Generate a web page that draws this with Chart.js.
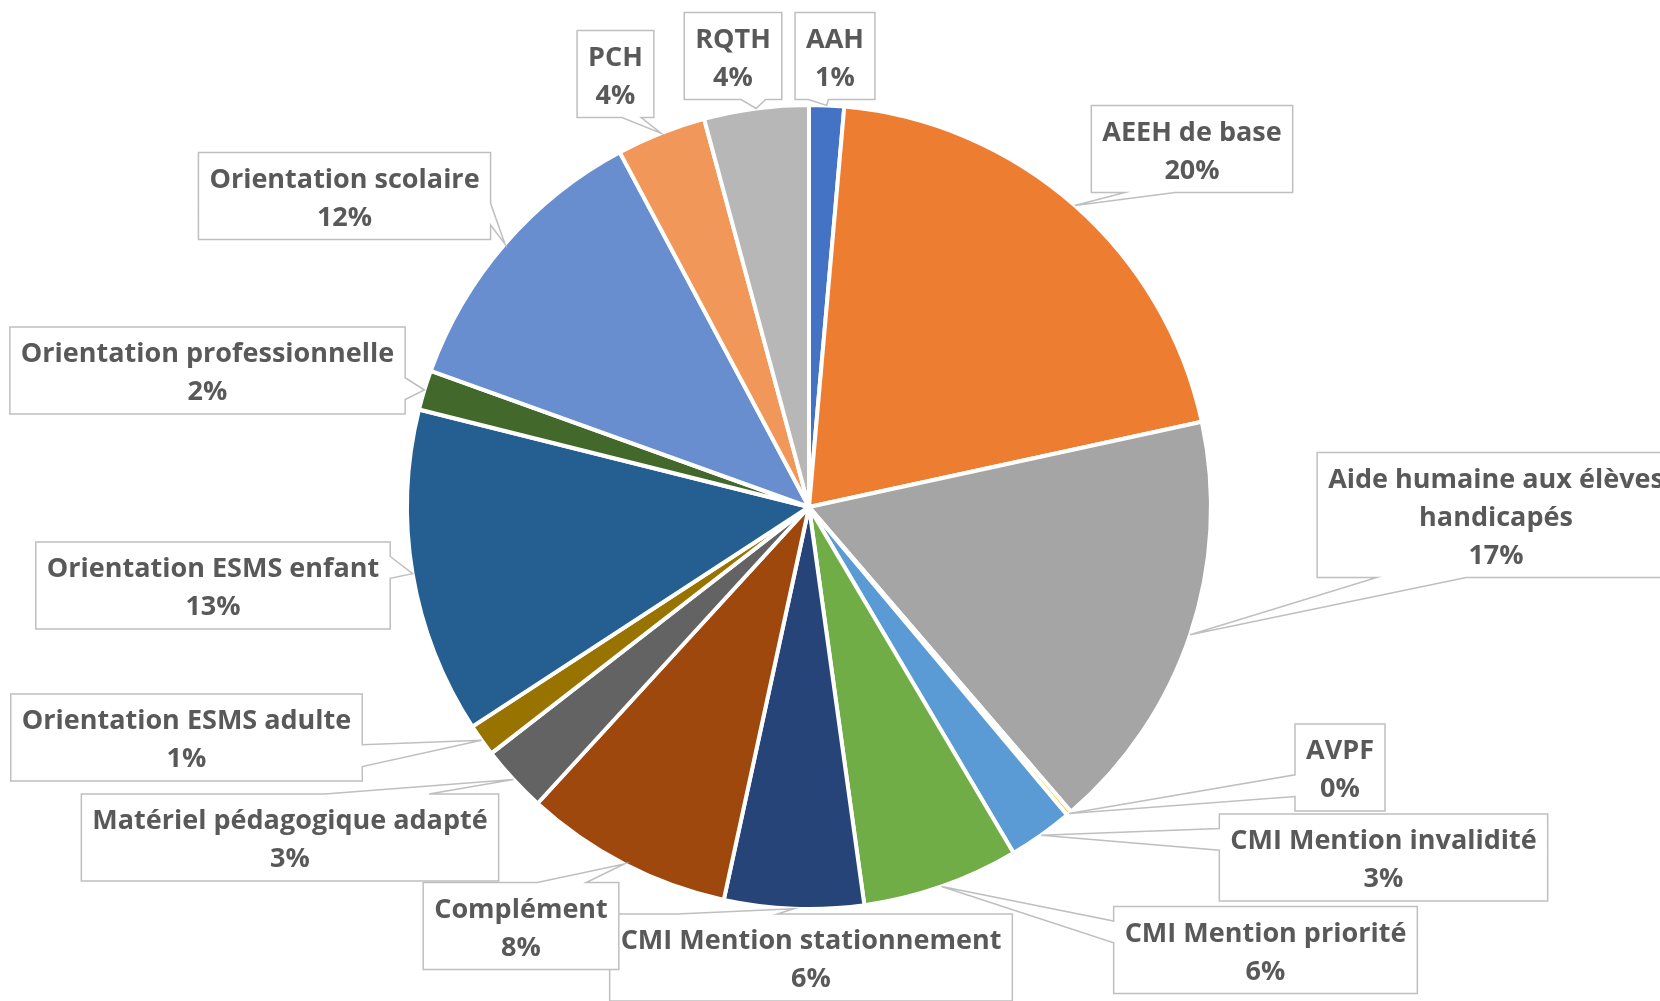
<!DOCTYPE html>
<html lang="fr">
<head>
<meta charset="utf-8">
<title>Répartition</title>
<script src="https://cdn.jsdelivr.net/npm/chart.js@4.4.1/dist/chart.umd.min.js"></script>
<style>
  html, body { margin: 0; padding: 0; background: #fff; }
  #wrap { width: 1660px; height: 1001px; overflow: hidden; }
</style>
</head>
<body>
<div id="wrap"><canvas id="canvas-1" width="1660" height="1001"></canvas></div>
<script>
var categories = ['AAH', 'AEEH de base', 'Aide humaine aux élèves handicapés', 'AVPF',
  'CMI Mention invalidité', 'CMI Mention priorité', 'CMI Mention stationnement', 'Complément',
  'Matériel pédagogique adapté', 'Orientation ESMS adulte', 'Orientation ESMS enfant',
  'Orientation professionnelle', 'Orientation scolaire', 'PCH', 'RQTH'];
var values = [1.4, 20.2, 17.1, 0.2, 2.6, 6.3, 5.6, 8.4, 2.7, 1.3, 13.1, 1.6, 11.7, 3.6, 4.2];
var colors = ['#4472C4', '#ED7D31', '#A5A5A5', '#FFC000', '#5B9BD5', '#70AD47', '#264478', '#9E480E',
  '#636363', '#997300', '#255E91', '#43682B', '#698ED0', '#F1975A', '#B7B7B7'];

// callout box centres (px) and the edge the pointer leaves from
var labelBoxes = [
  {x: 835, y: 56, side: 'b'}, {x: 1192, y: 149, side: 'b'}, {x: 1496, y: 515, side: 'b'},
  {x: 1340, y: 767.5, side: 'l'}, {x: 1383.5, y: 857.5, side: 'l'}, {x: 1265.5, y: 950, side: 'l'},
  {x: 811, y: 957.5, side: 't'}, {x: 521, y: 926, side: 't'}, {x: 290, y: 837.5, side: 't'},
  {x: 186.5, y: 737.5, side: 'r'}, {x: 213, y: 585.5, side: 'r'}, {x: 207.5, y: 370.5, side: 'r'},
  {x: 344.5, y: 196, side: 'r'}, {x: 615.5, y: 74, side: 'b'}, {x: 733, y: 56, side: 'b'}
];

var FONT = 'bold 27px "Open Sans"';
var LINE_H = 38;
var WRAP_W = 410;

function wrapText(ctx, text) {
  var words = text.split(' '), lines = [], cur = '';
  words.forEach(function (w) {
    var test = cur ? cur + ' ' + w : w;
    if (cur && ctx.measureText(test).width > WRAP_W) { lines.push(cur); cur = w; }
    else cur = test;
  });
  lines.push(cur);
  return lines;
}

function callout(ctx, l, t, w, h, tip, side) {
  var r = l + w, b = t + h, x1, x2, y1, y2;
  if (tip.x > l + w / 2) { x1 = l + w * 7 / 12; x2 = l + w * 10 / 12; }
  else { x1 = l + w * 2 / 12; x2 = l + w * 5 / 12; }
  if (tip.y > t + h / 2) { y1 = t + h * 7 / 12; y2 = t + h * 10 / 12; }
  else { y1 = t + h * 2 / 12; y2 = t + h * 5 / 12; }
  ctx.beginPath();
  ctx.moveTo(l, t);
  if (side === 't') { ctx.lineTo(x1, t); ctx.lineTo(tip.x, tip.y); ctx.lineTo(x2, t); }
  ctx.lineTo(r, t);
  if (side === 'r') { ctx.lineTo(r, y1); ctx.lineTo(tip.x, tip.y); ctx.lineTo(r, y2); }
  ctx.lineTo(r, b);
  if (side === 'b') { ctx.lineTo(x2, b); ctx.lineTo(tip.x, tip.y); ctx.lineTo(x1, b); }
  ctx.lineTo(l, b);
  if (side === 'l') { ctx.lineTo(l, y2); ctx.lineTo(tip.x, tip.y); ctx.lineTo(l, y1); }
  ctx.closePath();
  ctx.fill();
  ctx.stroke();
}

var calloutLabels = {
  id: 'calloutLabels',
  afterDatasetsDraw: function (chart) {
    var ctx = chart.ctx;
    var meta = chart.getDatasetMeta(0);
    var total = values.reduce(function (a, b) { return a + b; }, 0);
    ctx.save();
    ctx.font = FONT;
    ctx.lineWidth = 1.5;
    ctx.strokeStyle = '#BFBFBF';
    ctx.lineJoin = 'miter';
    meta.data.forEach(function (arc, i) {
      var p = arc.getProps(['x', 'y', 'startAngle', 'endAngle', 'outerRadius'], true);
      var mid = (p.startAngle + p.endAngle) / 2;
      var tip = {x: p.x + Math.cos(mid) * p.outerRadius, y: p.y + Math.sin(mid) * p.outerRadius};
      var lines = wrapText(ctx, categories[i]);
      lines.push(Math.round(values[i] / total * 100) + '%');
      var tw = 0;
      lines.forEach(function (s) { tw = Math.max(tw, ctx.measureText(s).width); });
      var w = tw + 22, h = lines.length * LINE_H + 11;
      var box = labelBoxes[i];
      var l = box.x - w / 2, t = box.y - h / 2;
      ctx.fillStyle = '#FFFFFF';
      callout(ctx, l, t, w, h, tip, box.side);
      ctx.fillStyle = '#595959';
      ctx.textAlign = 'center';
      ctx.textBaseline = 'middle';
      lines.forEach(function (s, k) {
        ctx.fillText(s, box.x, t + 5.5 + LINE_H * (k + 0.5) + 3);
      });
    });
    ctx.restore();
  }
};

var ctx = document.getElementById('canvas-1');
var chart = new Chart(ctx, {
  type: 'pie',
  data: {
    labels: categories,
    datasets: [{
      data: values,
      backgroundColor: colors,
      borderColor: '#FFFFFF',
      borderWidth: 4,
      hoverBorderWidth: 4,
      hoverOffset: 0
    }]
  },
  options: {
    responsive: false,
    animation: false,
    events: [],
    layout: { padding: { left: 405, right: 447, top: 103, bottom: 90 } },
    plugins: {
      legend: { display: false },
      tooltip: { enabled: false }
    }
  },
  plugins: [calloutLabels]
});
</script>
</body>
</html>
